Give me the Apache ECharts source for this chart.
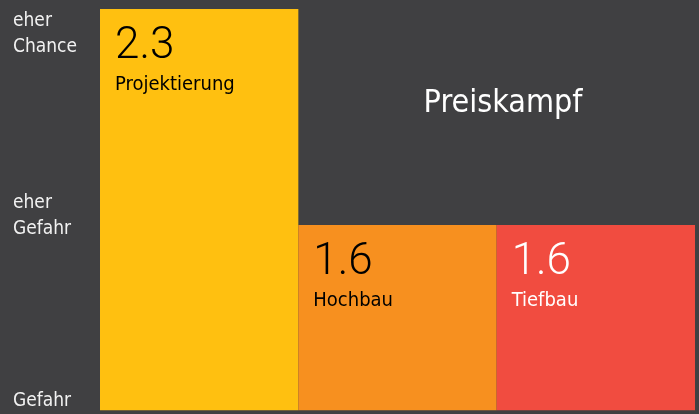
<!DOCTYPE html>
<html>
<head>
<meta charset="utf-8">
<script src="https://cdn.jsdelivr.net/npm/echarts@6/dist/echarts.min.js"></script>
<style>
  html, body { margin: 0; padding: 0; background: #404042; }
  #chart { width: 699px; height: 414px; }
</style>
</head>
<body>
<div id="chart"></div>
<script>
var categories = ['Projektierung', 'Hochbau', 'Tiefbau'];
var values = [2.3, 1.6, 1.6];
var barColors = ['#FFC010', '#F7901F', '#F14C40'];
var labelColors = ['#000000', '#000000', '#ffffff'];
var yLabelValues = [1.03, 1.63, 2.22];
var yLabelTexts = ['Gefahr', 'eher\nGefahr', 'eher\nChance'];

var FONT = "'Liberation Sans Narrow', 'DejaVu Sans Condensed', 'Roboto Condensed', Roboto, sans-serif";

var myChart = echarts.init(document.getElementById('chart'));

var option = {
    backgroundColor: '#404042',
    animation: false,
    title: {
        text: 'Preiskampf',
        left: 498,
        top: 83,
        textAlign: 'center',
        textStyle: { color: '#ffffff', fontSize: 32, fontWeight: 'normal', fontFamily: FONT }
    },
    grid: { left: 100, right: 4, top: 9, bottom: 1, containLabel: false },
    xAxis: {
        type: 'category',
        data: categories,
        show: false
    },
    yAxis: {
        type: 'value',
        min: 1,
        max: 2.3,
        splitLine: { show: false },
        axisLine: { show: false },
        axisTick: { show: false },
        axisLabel: {
            customValues: yLabelValues,
            align: 'left',
            margin: 87,
            color: '#f2f2f2',
            fontSize: 19,
            lineHeight: 26,
            fontFamily: FONT,
            formatter: function (v) {
                var i = yLabelValues.indexOf(v);
                return i >= 0 ? yLabelTexts[i] : '';
            }
        }
    },
    series: [{
        type: 'bar',
        barWidth: '100%',
        barCategoryGap: 0,
        data: values.map(function (v, i) {
            return {
                value: v,
                itemStyle: { color: barColors[i] },
                label: { color: labelColors[i] }
            };
        }),
        label: {
            show: true,
            position: 'insideTopLeft',
            distance: 15,
            fontFamily: FONT,
            formatter: function (p) {
                return '{v|' + p.value + '}\n{n|' + p.name + '}';
            },
            rich: {
                v: { fontSize: 44, fontWeight: 300, fontFamily: 'Roboto', lineHeight: 46 },
                n: { fontSize: 20, lineHeight: 30, fontFamily: FONT }
            }
        }
    }]
};

myChart.setOption(option);
</script>
</body>
</html>
